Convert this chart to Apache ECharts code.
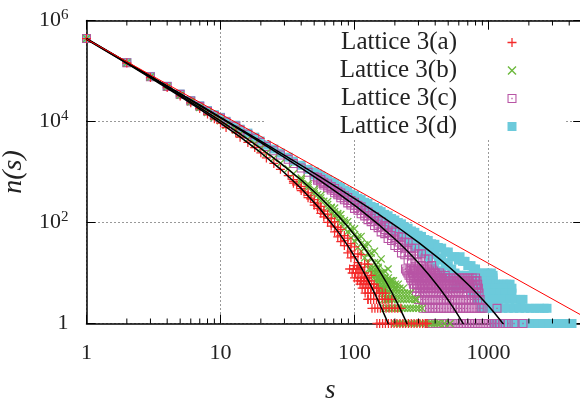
<!DOCTYPE html>
<html lang="en">
<head>
    <meta charset="utf-8"/>
    <script src="https://cdn.jsdelivr.net/npm/echarts@6.0.0/dist/echarts.min.js"></script>
</head>
<body style="margin: 0">
<div id="container" style="width: 580px;height:401px;"></div>
<script type="text/javascript">
    // cluster size distribution, every point is [s, n(s)]
    var latticeA = [
        [1,4.4e5],[2,1.44e5],[3,7.4e4],[4,4.7e4],[5,3.2e4],[6,2.35e4],[7,1.8e4],[8,1.4e4],[9,1.13e4],
        [10,9300],[11,7600],[13,6000],[14,4900],[16,3850],[18,3050],[20,2400],[22,1900],[25,1480],[28,1130],
        [32,850],[35,650],[37,553],[40,470],[42,404],[45,345],[47,294],[50,250],[53,211],[56,178],[59,147],
        [63,122],[67,100],[71,82],[75,67],[79,55],[84,44],[89,35],[94,27],[100,21],[106,16],[112,13],[119,10],[126,7],
        [35,705],[35,600],[40,520],[40,430],[45,385],[45,310],[50,285],[50,220],[53,235],[53,190],[56,208],[56,152],
        [59,168],[59,129],[63,147],[63,101],[71,103],[71,65],[79,73],[79,42],[89,49],[89,25],[100,33],[100,14],
        [112,23],[112,7],[126,15],[126,3],
        [67,120],[67,85],[75,80],[75,52],[84,55],[84,35],[94,38],[94,20],[106,24],[106,12],[119,15],[119,8],[133,9],[133,5],
        [92,12],[98,12],[104,12],[110,12],[96,10],[102,10],[108,10],[114,10],
        [100,8],[106,8],[112,8],[118,8],[124,8],
        [105,7],[111,7],[117,7],[123,7],[129,7],
        [110,6],[116,6],[122,6],[128,6],[134,6],[140,6],
        [114,5],[120,5],[126,5],[132,5],[139,5],[146,5],[150,5],
        [120,4],[126,4],[132,4],[139,4],[146,4],[153,4],[161,4],[170,4],
        [126,3],[132,3],[139,3],[146,3],[153,3],[161,3],[169,3],[178,3],[190,3],
        [135,2],[142,2],[149,2],[156,2],[164,2],[172,2],[181,2],[190,2],[200,2],[210,2],[222,2],
        [147,1],[154,1],[162,1],[170,1],[179,1],[188,1],[197,1],[207,1],[218,1],[229,1],[240,1],[252,1],
        [265,1],[278,1],[292,1],[307,1],[322,1],[338,1],[348,1]
    ];
    var latticeB = [
        [1,4.4e5],[2,1.45e5],[3,7.6e4],[4,4.85e4],[5,3.3e4],[6,2.45e4],[7,1.9e4],[8,1.5e4],[9,1.22e4],
        [10,10300],[11,8400],[13,6800],[14,5600],[16,4500],[18,3650],[20,2950],[22,2370],[25,1880],[28,1490],
        [32,1160],[35,920],[40,700],[45,535],[50,410],[53,355],[56,307],[59,263],[63,226],[67,193],[71,164],[75,140],
        [79,119],[84,99],[89,83],[94,69],[100,57],[106,47],[112,38],[119,31],[126,25],[133,20],[141,16],[150,13],
        [158,10],[168,8],[178,6],
        [40,760],[40,650],[45,585],[45,490],[50,453],[50,369],[56,346],[56,272],[63,260],[63,197],[71,193],[71,140],
        [79,144],[79,98],[89,104],[89,66],[100,75],[100,43],[112,53],[112,27],[126,38],[126,16],[141,27],[141,9],
        [158,19],[158,5],[178,12],[178,3],
        [67,200],[67,150],[75,150],[75,110],[84,110],[84,75],[94,75],[94,50],[106,52],[106,32],[119,36],[119,20],
        [133,25],[133,12],[150,16],[150,8],[168,11],[168,5],[189,7],[200,5],
        [128,12],[135,12],[142,12],[149,12],[135,10],[142,10],[149,10],[156,10],[164,10],
        [140,8],[147,8],[154,8],[162,8],[170,8],[179,8],
        [145,7],[152,7],[160,7],[168,7],[176,7],[185,7],[195,7],
        [150,6],[158,6],[166,6],[174,6],[183,6],[192,6],[202,6],[212,6],
        [155,5],[163,5],[171,5],[179,5],[188,5],[197,5],[207,5],[218,5],[232,5],
        [160,4],[168,4],[176,4],[185,4],[194,4],[204,4],[214,4],[225,4],[236,4],[248,4],[260,4],
        [165,3],[173,3],[182,3],[191,3],[200,3],[210,3],[221,3],[232,3],[244,3],[256,3],[269,3],[282,3],[290,3],
        [169,2],[177,2],[186,2],[195,2],[205,2],[215,2],[226,2],[237,2],[249,2],[261,2],[274,2],[288,2],[302,2],[319,2],
        [200,1],[210,1],[220,1],[231,1],[243,1],[255,1],[268,1],[281,1],[295,1],[310,1],[325,1],[341,1],[358,1],
        [376,1],[395,1],[415,1],[436,1],[470,1],[516,1]
    ];
    var latticeC = [
        [1,4.4e5],[2,1.46e5],[3,7.7e4],[4,4.95e4],[5,3.45e4],[6,2.55e4],[7,2.0e4],[8,1.6e4],[9,1.3e4],
        [10,11750],[11,9800],[13,8100],[14,6750],[16,5600],[18,4650],[20,3850],[22,3200],[25,2630],[28,2170],
        [32,1780],[35,1470],[40,1200],[45,985],[50,805],[53,726],[56,655],[59,589],[63,530],[67,476],[71,428],[75,384],
        [79,345],[84,309],[89,276],[94,246],[100,219],[106,195],[112,174],[119,154],[126,136],[133,120],[141,106],
        [150,93],[158,82],[168,72],[178,63],[189,55],[200,47],[212,41],[224,36],[237,31],[251,26],[266,22],[282,19],
        [298,16],[316,14],[335,12],[355,10],[376,8],
        [56,710],[56,605],[63,581],[63,486],[71,473],[71,387],[79,385],[79,309],[89,313],[89,244],[100,252],[100,190],
        [112,204],[112,149],[126,162],[126,114],[141,130],[141,87],[158,104],[158,65],[178,82],[178,48],[200,64],[200,35],
        [224,51],[224,25],[251,40],[251,18],[282,31],[282,12],[316,24],[316,8],[355,19],[355,5],
        [53,770],[53,684],[59,629],[59,551],[67,514],[67,441],[75,416],[75,354],[84,339],[84,282],[94,272],[94,222],
        [106,219],[106,174],[119,175],[119,135],[133,139],[133,104],[150,110],[150,79],[168,87],[168,60],[189,68],[189,44],
        [212,53],[212,32],[237,41],[237,23],[266,31],[266,16],[298,24],[298,11],[335,19],[335,8],[376,14],[376,5],
        [398,10],[420,9],
        [240,12],[260,12],[280,12],[300,12],[325,12],[350,12],[378,12],
        [245,11],[265,11],[287,11],[310,11],[335,11],[362,11],[390,11],
        [250,10],[270,10],[292,10],[316,10],[342,10],[370,10],[400,10],[432,10],
        [255,9],[276,9],[298,9],[322,9],[348,9],[376,9],[406,9],[440,9],[475,9],
        [262,8],[276,8],[291,8],[307,8],[324,8],[342,8],[361,8],[381,8],[402,8],[424,8],[447,8],[472,8],[492,8],
        [519,8],[548,8],[578,8],[610,8],[643,8],[678,8],[715,8],[755,8],[800,8],
        [268,7],[283,7],[298,7],[315,7],[332,7],[350,7],[369,7],[390,7],[411,7],[434,7],[458,7],[483,7],[510,7],
        [545,7],[575,7],[607,7],[640,7],[675,7],[712,7],[751,7],[792,7],[820,7],
        [275,6],[290,6],[306,6],[323,6],[341,6],[360,6],[380,6],[401,6],[423,6],[446,6],[471,6],[497,6],[524,6],
        [553,6],[583,6],[615,6],[649,6],[685,6],[722,6],[762,6],[804,6],[830,6],
        [280,5],[296,5],[312,5],[329,5],[347,5],[366,5],[386,5],[407,5],[430,5],[453,5],[478,5],[505,5],[532,5],
        [562,5],[593,5],[625,5],[660,5],[696,5],[734,5],[774,5],[816,5],[840,5],
        [290,4],[306,4],[323,4],[340,4],[359,4],[379,4],[400,4],[422,4],[445,4],[469,4],[495,4],[522,4],[551,4],
        [581,4],[613,4],[647,4],[683,4],[735,4],[775,4],[817,4],[850,4],
        [300,3],[317,3],[334,3],[352,3],[372,3],[392,3],[414,3],[436,3],[460,3],[486,3],[512,3],[540,3],[570,3],
        [602,3],[635,3],[670,3],[707,3],[745,3],[786,3],[830,3],[865,3],
        [325,2],[343,2],[362,2],[382,2],[403,2],[425,2],[448,2],[473,2],[499,2],[527,2],[556,2],[586,2],[618,2],
        [652,2],[688,2],[726,2],[766,2],[808,2],[852,2],[880,2],[910,2],[1157,2],
        [360,1],[380,1],[401,1],[423,1],[446,1],[471,1],[497,1],[524,1],[553,1],[583,1],[615,1],[649,1],[685,1],
        [722,1],[762,1],[804,1],[848,1],[895,1],[944,1],[996,1],[1051,1],[1109,1],[1170,1],[1220,1],[1300,1],
        [1400,1],[1550,1],[1808,1]
    ];
    var latticeD = [
        [1,4.4e5],[2,1.47e5],[3,7.8e4],[4,5.0e4],[5,3.5e4],[6,2.6e4],[7,2.05e4],[8,1.65e4],[9,1.37e4],
        [10,12100],[11,10100],[13,8450],[14,7050],[16,5900],[18,4900],[20,4100],[22,3400],[25,2850],[28,2370],
        [32,1970],[35,1640],[40,1360],[45,1130],[50,940],[56,780],[63,645],[71,533],[79,441],[89,363],[100,299],
        [112,245],[126,201],[141,165],[158,134],[178,109],[200,88],[224,71],[251,57],[282,46],[316,36],[355,29],
        [398,23],[447,18],[501,14],[562,10],
        [53,856],[59,709],[67,586],[75,485],[84,400],[94,329],[106,271],[119,222],[133,182],[150,149],[168,121],
        [189,98],[212,79],[237,64],[266,51],[298,41],[335,32],[376,26],[422,20],[474,16],[531,12],[596,9],
        [50,1010],[56,848],[63,706],[71,589],[79,492],[89,409],[100,341],[112,284],[126,237],[141,198],[158,164],
        [178,136],[200,112],[224,94],[251,77],[282,64],[316,53],[355,44],[398,37],[447,31],[501,26],[562,21],
        [53,910],[59,760],[67,633],[75,529],[84,439],[94,364],[106,303],[119,252],[133,208],[150,176],[168,145],
        [189,120],[212,100],[237,82],[266,68],[298,56],[335,46],[376,38],[422,32],[474,26],[531,21],[596,18],
        [50,875],[56,717],[63,590],[71,482],[79,395],[89,322],[100,262],[112,211],[126,171],[141,138],[158,109],
        [178,87],[200,69],[224,54],[251,42],[282,33],[316,25],[355,19],[398,14],[447,11],[501,8],[562,5],
        [613,21],[640,17],[668,17],[700,14],[740,14],[770,12],[800,12],[800,11],[850,10],[920,10],[990,10],[1050,10],
        [520,9],[570,9],[625,9],[685,9],[750,9],[820,9],[900,9],[985,9],[1081,9],
        [560,8],[615,8],[675,8],[740,8],[810,8],[890,8],[975,8],[1081,8],
        [600,7],[660,7],[725,7],[795,7],[870,7],[955,7],[1040,7],[1081,7],
        [650,6],[715,6],[785,6],[860,6],[945,6],[1035,6],[1130,6],[1200,6],[1300,6],[1370,6],[1447,6],
        [700,5],[770,5],[845,5],[930,5],[1020,5],[1120,5],[1230,5],[1350,5],[1496,5],
        [760,4],[835,4],[915,4],[1005,4],[1100,4],[1210,4],[1330,4],[1496,4],
        [820,3],[900,3],[990,3],[1085,3],[1190,3],[1310,3],[1440,3],[1580,3],[1740,3],[1808,3],
        [880,2],[965,2],[1060,2],[1165,2],[1280,2],[1405,2],[1545,2],[1700,2],[1870,2],[2050,2],[2223,2],
        [2400,2],[2600,2],[2731,2],
        [1100,1],[1210,1],[1330,1],[1460,1],[1600,1],[1760,1],[1930,1],[2120,1],[2330,1],[2560,1],[2810,1],
        [3090,1],[3390,1],[3720,1],[4080,1],[4197,1]
    ];

    // fitted curves (black) and the straight power law (red)
    var fitA = [[1,4.25e5],[2,1.41e5],[3,7.31e4],[5,3.13e4],[7,1.76e4],[10,9310],[14,4940],[20,2410],[28,1143],
        [40,471],[55,189],[77,61],[90,33.3],[105,17.3],[115,11.4],[125,7.55],[135,5.08],[150,2.84],[160,1.94],[170,1.34],[180,0.93]];
    var fitB = [[1,4.29e5],[2,1.44e5],[3,7.53e4],[5,3.29e4],[7,1.88e4],[10,10260],[14,5660],[20,2920],[28,1500],
        [40,695],[55,324],[77,129],[90,80.1],[105,48.1],[125,25.5],[140,16.3],[150,12.2],[175,6.14],[190,4.11],
        [210,2.45],[230,1.48],[250,0.91]];
    var fitC = [[1,4.35e5],[2,1.48e5],[3,7.85e4],[5,3.52e4],[7,2.07e4],[10,11750],[14,6850],[20,3840],[28,2190],
        [40,1190],[55,681],[77,366],[105,199],[150,93.1],[210,42.0],[250,26.7],[300,16.0],[360,9.16],[430,5.05],
        [475,3.52],[510,2.69],[550,1.99],[600,1.38],[650,0.97]];
    var fitD = [[1,4.36e5],[2,1.49e5],[3,7.93e4],[5,3.57e4],[7,2.12e4],[10,12100],[14,7160],[20,4080],[28,2390],
        [40,1350],[55,807],[77,463],[105,275],[150,148],[210,80.5],[300,40.5],[430,19.1],[510,13.0],[600,8.87],
        [720,5.60],[850,3.56],[1000,2.22],[1100,1.65],[1200,1.24],[1300,0.95]];
    var powerLaw = [[1,4.27e5],[5000,1.43]];

    var xMinorTicks = [2,3,4,5,6,7,8,9,20,30,40,50,60,70,80,90,200,300,400,500,600,700,800,900,2000,3000,4000];

    var serif = 'Liberation Serif';
    var plusSymbol = 'path://M4.3,0h1.4v10h-1.4zM0,4.3h10v1.4h-10z';
    var crossSymbol = 'path://M0,1.1L1.1,0L10,8.9L8.9,10ZM8.9,0L10,1.1L1.1,10L0,8.9Z';
    var boxSymbol = 'path://M0,0h10v10h-10zM1.2,1.2v7.6h7.6v-7.6zM4.3,4.3h1.4v1.4h-1.4z';
    var squareSymbol = 'path://M0,0h10v10h-10z';

    var myChart = echarts.init(document.getElementById('container'));

    function fitLine(data) {
        return {type: 'line', data: data, symbol: 'none', silent: true, z: 3,
            lineStyle: {color: '#000', width: 1.5}};
    }

    var option = {
        animation: false,
        grid: {left: 86.5, right: -2.2, top: 20.5, bottom: 77.5, outerBoundsMode: 'none'},
        legend: {
            orient: 'vertical', align: 'right', right: 14, top: 30,
            itemWidth: 100, itemHeight: 9, itemGap: 3,
            padding: [0, 49.5, 1, 75], backgroundColor: '#fff',
            textStyle: {fontFamily: serif, fontSize: 25, lineHeight: 24, color: '#222'},
            data: ['Lattice 3(a)', 'Lattice 3(b)', 'Lattice 3(c)', 'Lattice 3(d)']
        },
        xAxis: [{
            type: 'log', logBase: 10, min: 1, max: 5000,
            name: 's', nameLocation: 'middle', nameGap: 54,
            nameTextStyle: {fontFamily: serif, fontStyle: 'italic', fontSize: 27, color: '#222', padding: [0, 8, 0, 0]},
            axisLine: {lineStyle: {color: '#000', width: 1.5}},
            axisTick: {inside: true, length: 9, lineStyle: {color: '#000'}},
            axisLabel: {
                margin: 19, fontFamily: serif, fontSize: 22, color: '#222',
                formatter: function (v) {
                    var e = Math.log10(v);
                    return (Math.abs(e - Math.round(e)) < 1e-6 && v < 4000) ? String(Math.round(v)) : '';
                }
            },
            splitLine: {show: true, lineStyle: {color: '#333', type: [1, 3], width: 1}}
        }, {
            type: 'log', logBase: 10, min: 1, max: 5000, position: 'top',
            axisLine: {lineStyle: {color: '#000', width: 1.5}},
            axisTick: {inside: true, length: 9, lineStyle: {color: '#000'}},
            axisLabel: {show: false},
            splitLine: {show: false}
        }],
        yAxis: [{
            type: 'log', logBase: 100, min: 1, max: 1e6,
            name: 'n(s)', nameLocation: 'middle', nameGap: 50, nameRotate: 90,
            nameTextStyle: {fontFamily: serif, fontStyle: 'italic', fontSize: 28, color: '#222'},
            axisLine: {lineStyle: {color: '#000', width: 1.5}},
            axisTick: {inside: true, length: 9, lineStyle: {color: '#000'}},
            axisLabel: {
                margin: 18,
                formatter: function (v) {
                    var e = Math.round(Math.log10(v));
                    return e === 0 ? '{b|1}' : '{b|10}{e|' + e + '}';
                },
                rich: {
                    b: {fontFamily: serif, fontSize: 22, lineHeight: 26, color: '#222'},
                    e: {fontFamily: serif, fontSize: 15, verticalAlign: 'top', color: '#222'}
                }
            },
            splitLine: {show: true, lineStyle: {color: '#333', type: [1, 3], width: 1}}
        }, {
            type: 'log', logBase: 100, min: 1, max: 1e6, position: 'right',
            axisLine: {lineStyle: {color: '#000', width: 1.5}},
            axisTick: {inside: true, length: 9, lineStyle: {color: '#000'}},
            axisLabel: {show: false},
            splitLine: {show: false}
        }],
        series: [
            {name: 'Lattice 3(d)', type: 'scatter', data: latticeD, symbol: squareSymbol, symbolSize: 9,
                symbolKeepAspect: true, clip: false, itemStyle: {color: '#6ccadb', opacity: 1}},
            {name: 'Lattice 3(c)', type: 'scatter', data: latticeC, symbol: boxSymbol, symbolSize: 9,
                symbolKeepAspect: true, clip: false, itemStyle: {color: '#b855a5', opacity: 1}},
            {name: 'Lattice 3(b)', type: 'scatter', data: latticeB, symbol: crossSymbol, symbolSize: 8,
                symbolKeepAspect: true, clip: false, itemStyle: {color: '#6cb93c', opacity: 1}},
            {name: 'Lattice 3(a)', type: 'scatter', data: latticeA, symbol: plusSymbol, symbolSize: 9,
                symbolKeepAspect: true, clip: false, itemStyle: {color: '#f42a2a', opacity: 1}},
            fitLine(fitD), fitLine(fitC), fitLine(fitB), fitLine(fitA),
            {type: 'line', data: powerLaw, symbol: 'none', silent: true, z: 3,
                lineStyle: {color: '#f00', width: 1}},
            {
                type: 'custom', silent: true, z: 5, clip: false,
                data: xMinorTicks.map(function (v) { return [v, 1]; }),
                renderItem: function (params, api) {
                    var bottom = api.coord([api.value(0), 1]);
                    var top = api.coord([api.value(0), 1e6]);
                    var st = {stroke: '#000', lineWidth: 1};
                    return {type: 'group', children: [
                        {type: 'line', shape: {x1: bottom[0], y1: bottom[1], x2: bottom[0], y2: bottom[1] - 5}, style: st},
                        {type: 'line', shape: {x1: top[0], y1: top[1], x2: top[0], y2: top[1] + 5}, style: st}
                    ]};
                }
            }
        ]
    };

    myChart.setOption(option);
</script>
</body>
</html>
